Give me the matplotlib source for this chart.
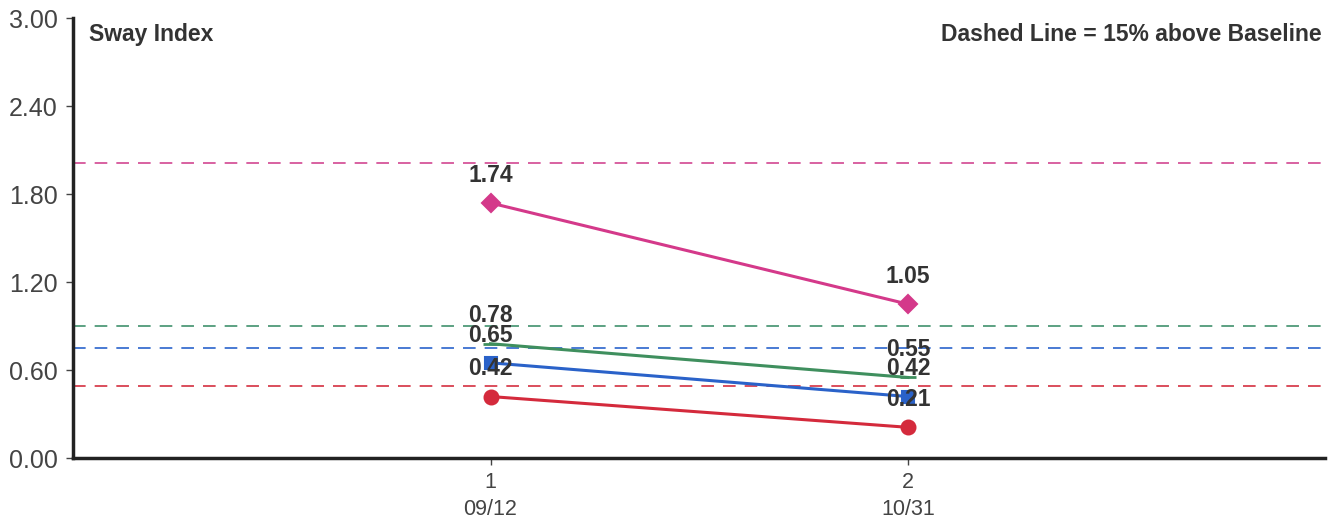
import matplotlib
matplotlib.use("Agg")
import matplotlib.pyplot as plt

plt.rcParams['font.family'] = ['Liberation Sans', 'DejaVu Sans']

# sessions
x_pos = [1, 2]
x_labels = ["1\n09/12", "2\n10/31"]

# sway index per condition
pink_vals = [1.74, 1.05]
green_vals = [0.78, 0.55]
blue_vals = [0.65, 0.42]
red_vals = [0.42, 0.21]

# 15% above baseline thresholds
pink_thr = 2.01
green_thr = 0.90
blue_thr = 0.75
red_thr = 0.49

y_ticks = [0.0, 0.6, 1.2, 1.8, 2.4, 3.0]

fig = plt.figure(figsize=(13.38, 5.2), dpi=100)
ax = fig.add_axes([0.0546, 0.119, 0.936, 0.846])

series = [
    (pink_vals, pink_thr, '#d4398a', '#d6559a', 'D', 9),
    (green_vals, green_thr, '#3f8f5e', '#4f9a78', '_', 12),
    (blue_vals, blue_thr, '#2a62c9', '#3a6fd0', 's', 9),
    (red_vals, red_thr, '#d42a3c', '#d8404f', 'o', 10),
]

for vals, thr, col, dcol, mk, ms in series:
    ax.axhline(thr, color=dcol, lw=1.3, ls=(0, (7, 5)), zorder=1)
    ax.plot(x_pos, vals, color=col, lw=2.2, marker=mk, ms=ms,
            markeredgewidth=1.5 if mk != '_' else 2, zorder=3)
    for xi, v in zip(x_pos, vals):
        ax.annotate("%.2f" % v, (xi, v), xytext=(0, 20), textcoords='offset points',
                    ha='center', va='center', fontsize=16.5, fontweight='bold',
                    color='#333333', zorder=4)

ax.set_xlim(0, 3)
ax.set_ylim(0, 3.0)
ax.set_yticks(y_ticks)
ax.set_yticklabels(["%.2f" % t for t in y_ticks])
ax.set_xticks(x_pos)
ax.set_xticklabels(x_labels, linespacing=1.35)

for side in ['top', 'right']:
    ax.spines[side].set_visible(False)
for side in ['left', 'bottom']:
    ax.spines[side].set_linewidth(2.5)
    ax.spines[side].set_color('#222222')

ax.tick_params(axis='both', colors='#444444', length=5, width=1)
ax.tick_params(axis='y', labelsize=18, pad=6)
ax.tick_params(axis='x', labelsize=15.5, pad=5)

ax.text(0.013, 0.99, "Sway Index", transform=ax.transAxes, ha='left', va='top',
        fontsize=16.5, fontweight='bold', color='#333333')
ax.text(0.997, 0.99, "Dashed Line = 15% above Baseline", transform=ax.transAxes,
        ha='right', va='top', fontsize=16.5, fontweight='bold', color='#333333')

fig.savefig("out.png", dpi=100, facecolor='white')
